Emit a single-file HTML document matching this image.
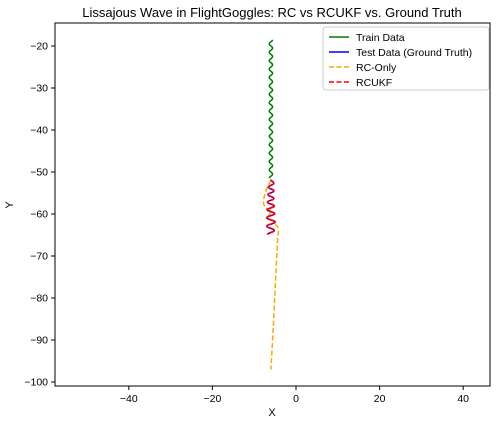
<!DOCTYPE html>
<html><head><meta charset="utf-8"><style>
body{margin:0;background:#fff;}
svg{display:block;font-family:"Liberation Sans","DejaVu Sans",sans-serif;}
</style></head><body>
<svg id="chart" width="496" height="424">
<rect width="496" height="424" fill="#fff"/>
<text x="272" y="17" text-anchor="middle" font-size="13">Lissajous Wave in FlightGoggles: RC vs RCUKF vs. Ground Truth</text>
<g id="plot"></g>
<g id="axes"></g>
<rect x="55" y="23" width="435" height="363" fill="none" stroke="#000" stroke-width="1"/>
<text x="272" y="416" text-anchor="middle" font-size="11">X</text>
<text x="13" y="205" text-anchor="middle" font-size="11" transform="rotate(-90 13 205)">Y</text>
<g>
<rect x="323" y="27" width="166" height="63" rx="3" fill="#fff" stroke="#ccc"/>
<line x1="329" y1="37" x2="349" y2="37" stroke="green" stroke-width="1.5"/>
<text x="356" y="41" font-size="10.5">Train Data</text>
<line x1="329" y1="52" x2="349" y2="52" stroke="blue" stroke-width="1.5"/>
<text x="356" y="56" font-size="10.5">Test Data (Ground Truth)</text>
<line x1="329" y1="67" x2="349" y2="67" stroke="orange" stroke-width="1.5" stroke-dasharray="5,2.5"/>
<text x="356" y="71" font-size="10.5">RC-Only</text>
<line x1="329" y1="82" x2="349" y2="82" stroke="red" stroke-width="1.5" stroke-dasharray="5,2.5"/>
<text x="356" y="86" font-size="10.5">RCUKF</text>
</g>
</svg>
<script>
const xTicks=[-40,-20,0,20,40];
const yTicks=[-20,-30,-40,-50,-60,-70,-80,-90,-100];
const trainX=[-5.6,-6.4,-5.6,-6.4,-5.6,-6.4,-5.6,-6.4,-5.6,-6.4,-5.6,-6.4,-5.6,-6.4,-5.6,-6.4,-5.6,-6.4,-5.6,-6.4,-5.6,-6.4,-5.6,-6.4,-5.6,-6.4,-5.6,-6.4,-5.6,-6.4,-5.6,-6.4,-5.6,-6.4];
const trainY=[-18.5,-19.5,-20.5,-21.5,-22.5,-23.5,-24.5,-25.5,-26.5,-27.5,-28.5,-29.5,-30.5,-31.5,-32.5,-33.5,-34.5,-35.5,-36.5,-37.5,-38.5,-39.5,-40.5,-41.5,-42.5,-43.5,-44.5,-45.5,-46.5,-47.5,-48.5,-49.5,-50.5,-51.5];
const testX=[-6,-5.3,-6.6,-5.3,-6.7,-5.3,-6.8,-5.2,-6.9,-5.1,-7,-5,-7,-5.2,-6.8];
const testY=[-51.8,-52.7,-53.6,-54.5,-55.4,-56.3,-57.2,-58.1,-59,-59.9,-60.9,-61.9,-62.9,-63.9,-64.9];
const rcX=[-6,-7,-7.8,-7.2,-6,-6.6,-5.4,-4.2,-4.4,-5,-5.5,-6];
const rcY=[-52,-54,-57,-58.5,-59.2,-60.8,-62,-63.5,-66,-78,-88,-97];
const sx=v=>296+v*4.18, sy=v=>46+(-20-v)*4.2;
const NS="http://www.w3.org/2000/svg";
const plot=document.getElementById('plot'), axes=document.getElementById('axes');
function smooth(xs,ys){let p=xs.map((x,i)=>[sx(x),sy(ys[i])]);let d=`M${p[0][0]},${p[0][1]}`;
for(let i=0;i<p.length-1;i++){const p0=p[i-1]||p[i],p1=p[i],p2=p[i+1],p3=p[i+2]||p2;
d+=` C${p1[0]+(p2[0]-p0[0])/6},${p1[1]+(p2[1]-p0[1])/6} ${p2[0]-(p3[0]-p1[0])/6},${p2[1]-(p3[1]-p1[1])/6} ${p2[0]},${p2[1]}`;}return d;}
function wave(xs,ys){let p=xs.map((x,i)=>[sx(x),sy(ys[i])]);let d=`M${p[0][0]},${p[0][1]}`;
for(let i=0;i<p.length-1;i++){const a=p[i],b=p[i+1],dy=b[1]-a[1];
d+=` C${a[0]},${a[1]+dy*0.45} ${b[0]},${b[1]-dy*0.45} ${b[0]},${b[1]}`;}return d;}
function line(d,color,dash,name,w){const e=document.createElementNS(NS,'path');
e.setAttribute('d',d);e.setAttribute('fill','none');e.setAttribute('stroke',color);e.setAttribute('stroke-width',w||'1.5');
if(dash)e.setAttribute('stroke-dasharray',dash);


plot.appendChild(e);}
line(wave(trainX,trainY),'green',null,'train-line');
line(wave(testX,testY),'blue',null,'test-line');
line(smooth(rcX,rcY),'orange','5,2.5','rc-only-line');
line(wave(testX,testY),'red','4,1.5','rcukf-line','1.8');
xTicks.forEach(v=>{const x=sx(v);
const t=document.createElementNS(NS,'line');t.setAttribute('x1',x);t.setAttribute('x2',x);t.setAttribute('y1',386);t.setAttribute('y2',390);t.setAttribute('stroke','#000');


axes.appendChild(t);
const l=document.createElementNS(NS,'text');l.setAttribute('x',x);l.setAttribute('y',402);l.setAttribute('text-anchor','middle');l.setAttribute('font-size','10.5');l.textContent=v<0?'\u2212'+(-v):v;


axes.appendChild(l);});
yTicks.forEach(v=>{const y=sy(v);
const t=document.createElementNS(NS,'line');t.setAttribute('x1',51);t.setAttribute('x2',55);t.setAttribute('y1',y);t.setAttribute('y2',y);t.setAttribute('stroke','#000');


axes.appendChild(t);
const l=document.createElementNS(NS,'text');l.setAttribute('x',48);l.setAttribute('y',y+3.5);l.setAttribute('text-anchor','end');l.setAttribute('font-size','10.5');l.textContent=v<0?'\u2212'+(-v):v;


axes.appendChild(l);});
</script>
</body></html>
